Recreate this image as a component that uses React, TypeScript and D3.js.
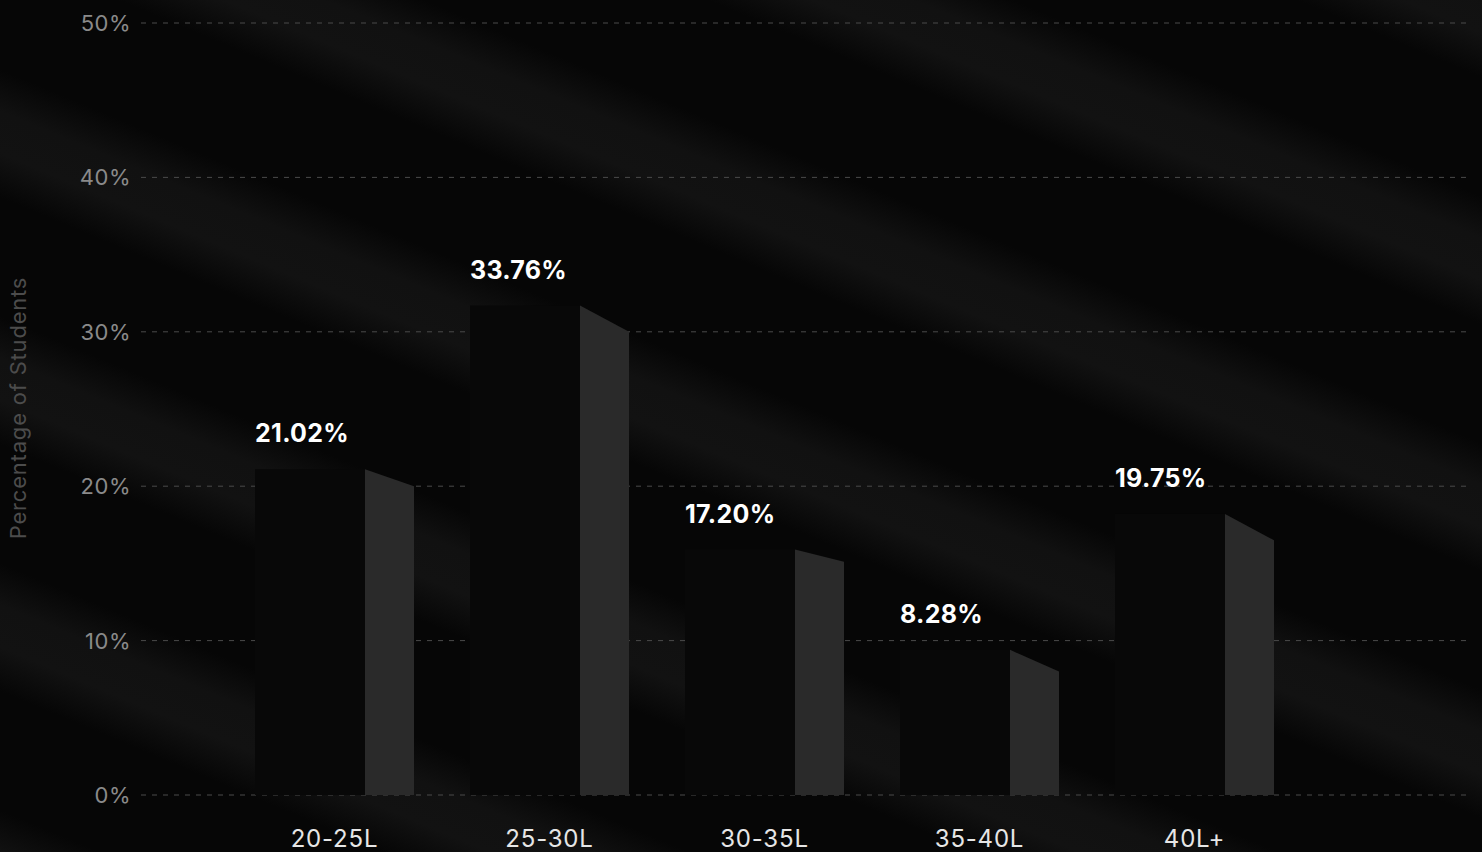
import React from "react";
import * as d3 from "d3";

const categories = ["20-25L", "25-30L", "30-35L", "35-40L", "40L+"];
const shareLabels = [21.02, 33.76, 17.2, 8.28, 19.75];
// drawn heights of the bar faces (percent units)
const frontTop = [21.1, 31.7, 15.9, 9.4, 18.2];
const sideEnd = [20.0, 30.0, 15.1, 8.0, 16.5];
const yTicks = [0, 10, 20, 30, 40, 50];

const W = 1482;
const H = 852;
const FONT = "Inter, 'Noto Sans', sans-serif";

export default function App() {
  const y = d3.scaleLinear().domain([0, 50]).range([795, 23]);
  const x = d3.scaleBand<string>().domain(categories).range([227, 1302]).padding(0);
  const frontW = 110;
  const sideW = 49;

  const stripeStops = [
    { o: 0, c: "#060606" },
    { o: 0.28, c: "#060606" },
    { o: 0.45, c: "#111111" },
    { o: 0.62, c: "#121212" },
    { o: 0.8, c: "#060606" },
    { o: 1, c: "#060606" },
  ];

  return (
    <svg
      width={W}
      height={H}
      style={{ position: "fixed", left: 0, top: 0, display: "block" }}
    >
      <defs>
        <linearGradient
          id="stripes"
          gradientUnits="userSpaceOnUse"
          x1={0}
          y1={0}
          x2={-88}
          y2={210}
          spreadMethod="repeat"
        >
          {stripeStops.map((s, i) => (
            <stop key={i} offset={s.o} stopColor={s.c} />
          ))}
        </linearGradient>
      </defs>
      <rect width={W} height={H} fill="#060606" />
      <rect width={W} height={H} fill="url(#stripes)" />

      {/* y axis title */}
      <text
        transform="translate(26,408) rotate(-90)"
        textAnchor="middle"
        fontFamily={FONT}
        fontSize={22}
        letterSpacing={0.8}
        fill="#4c4c4c"
      >
        Percentage of Students
      </text>

      {/* grid + ticks */}
      {yTicks.map((t) => (
        <g key={t}>
          <line
            x1={141}
            x2={1472}
            y1={y(t)}
            y2={y(t)}
            stroke="#4a4a4a"
            strokeWidth={1}
            strokeDasharray="5 6"
          />
          <text
            x={131}
            y={y(t)}
            dy="0.36em"
            textAnchor="end"
            fontFamily={FONT}
            fontSize={22}
            letterSpacing={0.5}
            fill="#8a8a8a"
          >
            {t}%
          </text>
        </g>
      ))}

      {/* bars */}
      {categories.map((c, i) => {
        const cx = (x(c) as number) + x.bandwidth() / 2;
        const left = cx - (frontW + sideW) / 2;
        const sx = left + frontW;
        const base = y(0);
        const sidePath = `M${sx},${base} L${sx},${y(frontTop[i])} L${sx + sideW},${y(
          sideEnd[i]
        )} L${sx + sideW},${base} Z`;
        return (
          <g key={c}>
            <rect
              x={left}
              y={y(frontTop[i])}
              width={frontW}
              height={base - y(frontTop[i])}
              fill="#080808"
            />
            <path d={sidePath} fill="#2a2a2a" />
            <text
              x={left}
              y={y(frontTop[i]) - 36}
              dy="0.36em"
              fontFamily={FONT}
              fontWeight={700}
              fontSize={25}
              letterSpacing={0.3}
              fill="#ffffff"
            >
              {shareLabels[i].toFixed(2)}%
            </text>
            <text
              x={cx}
              y={838}
              dy="0.36em"
              textAnchor="middle"
              fontFamily={FONT}
              fontSize={24}
              letterSpacing={0.8}
              fill="#e6e6e6"
            >
              {c}
            </text>
          </g>
        );
      })}
    </svg>
  );
}
